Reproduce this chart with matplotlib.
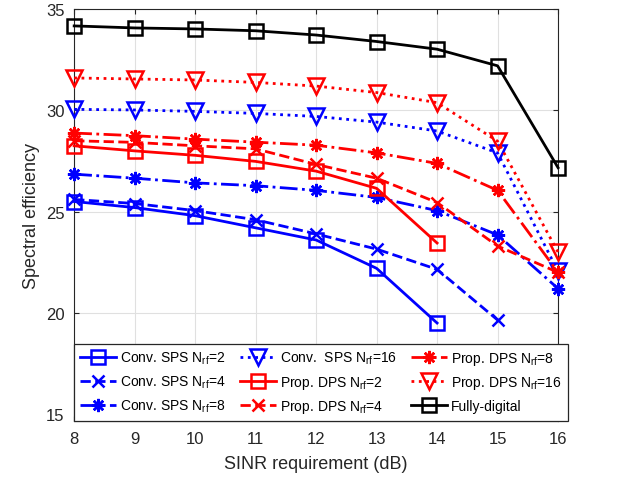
import matplotlib
matplotlib.use("Agg")
import matplotlib.pyplot as plt

plt.rcParams['font.family'] = ['Liberation Sans', 'DejaVu Sans']
plt.rcParams['mathtext.fontset'] = 'custom'
plt.rcParams['mathtext.rm'] = 'Liberation Sans'
plt.rcParams['mathtext.default'] = 'regular'

# SINR requirement (dB)
sinr = [8, 9, 10, 11, 12, 13, 14, 15, 16]

# spectral efficiency
conv_sps_2 = [25.5, 25.2, 24.8, 24.2, 23.6, 22.2, 19.5]
conv_sps_4 = [25.6, 25.4, 25.05, 24.6, 23.9, 23.15, 22.15, 19.65]
conv_sps_8 = [26.85, 26.65, 26.42, 26.28, 26.05, 25.7, 25.05, 23.85, 21.2]
conv_sps_16 = [30.05, 30.02, 29.95, 29.85, 29.7, 29.42, 28.98, 27.9, 22.05]
prop_dps_2 = [28.25, 28.0, 27.78, 27.48, 27.0, 26.15, 23.45]
prop_dps_4 = [28.5, 28.42, 28.25, 28.1, 27.33, 26.65, 25.45, 23.3, 22.0]
prop_dps_8 = [28.88, 28.75, 28.58, 28.43, 28.28, 27.9, 27.38, 26.05, 22.0]
prop_dps_16 = [31.6, 31.55, 31.5, 31.38, 31.2, 30.88, 30.38, 28.48, 23.0]
fully_digital = [34.17, 34.07, 34.02, 33.93, 33.72, 33.4, 33.02, 32.2, 27.17]

labels = [
    r'Conv. SPS N$_{rf}$=2',
    r'Conv. SPS N$_{rf}$=4',
    r'Conv. SPS N$_{rf}$=8',
    r'Conv.  SPS N$_{rf}$=16',
    r'Prop. DPS N$_{rf}$=2',
    r'Prop. DPS N$_{rf}$=4',
    r'Prop. DPS N$_{rf}$=8',
    r'Prop. DPS N$_{rf}$=16',
    'Fully-digital',
]

asterisk = (8, 2, 0)
series = [
    (conv_sps_2, 'blue', '-', 's'),
    (conv_sps_4, 'blue', '--', 'x'),
    (conv_sps_8, 'blue', '-.', asterisk),
    (conv_sps_16, 'blue', ':', 'v'),
    (prop_dps_2, 'red', '-', 's'),
    (prop_dps_4, 'red', '--', 'x'),
    (prop_dps_8, 'red', '-.', asterisk),
    (prop_dps_16, 'red', ':', 'v'),
    (fully_digital, 'black', '-', 's'),
]

fig = plt.figure(figsize=(6.18, 4.81), dpi=100)
ax = fig.add_axes([0.12, 0.123, 0.783, 0.856])

for (vals, col, ls, mk), lab in zip(series, labels):
    ms = 9.5
    if mk == 'v':
        ms = 12
    elif mk == 'x':
        ms = 9
    ax.plot(sinr[:len(vals)], vals, color=col, linestyle=ls, marker=mk,
            markersize=ms, markerfacecolor='none', markeredgewidth=1.8,
            linewidth=2, label=lab, clip_on=False, zorder=3)

ax.set_xlim(8, 16)
ax.set_ylim(14.67, 35)
ax.set_xticks(sinr)
ax.set_yticks([15, 20, 25, 30, 35])
ax.tick_params(direction='in', top=True, right=True, labelsize=12,
               colors='#262626', pad=7)
ax.grid(True, color='#e0e0e0', linewidth=0.8)
for s in ax.spines.values():
    s.set_color('#262626')
    s.set_linewidth(0.8)

ax.set_xlabel('SINR requirement (dB)', fontsize=13, color='#262626', labelpad=7)
ax.set_ylabel('Spectral efficiency', fontsize=13, color='#262626', labelpad=4)

leg = ax.legend(ncol=3, loc='lower left', bbox_to_anchor=(0, 0, 1.02, 0.206),
                mode='expand', borderaxespad=0, fontsize=10, fancybox=False,
                framealpha=1, edgecolor='#262626', handlelength=2.6,
                handletextpad=0.3, columnspacing=0.6, labelspacing=0.55)
leg.get_frame().set_linewidth(0.9)
leg.set_zorder(5)

fig.savefig('out.png', dpi=100)
